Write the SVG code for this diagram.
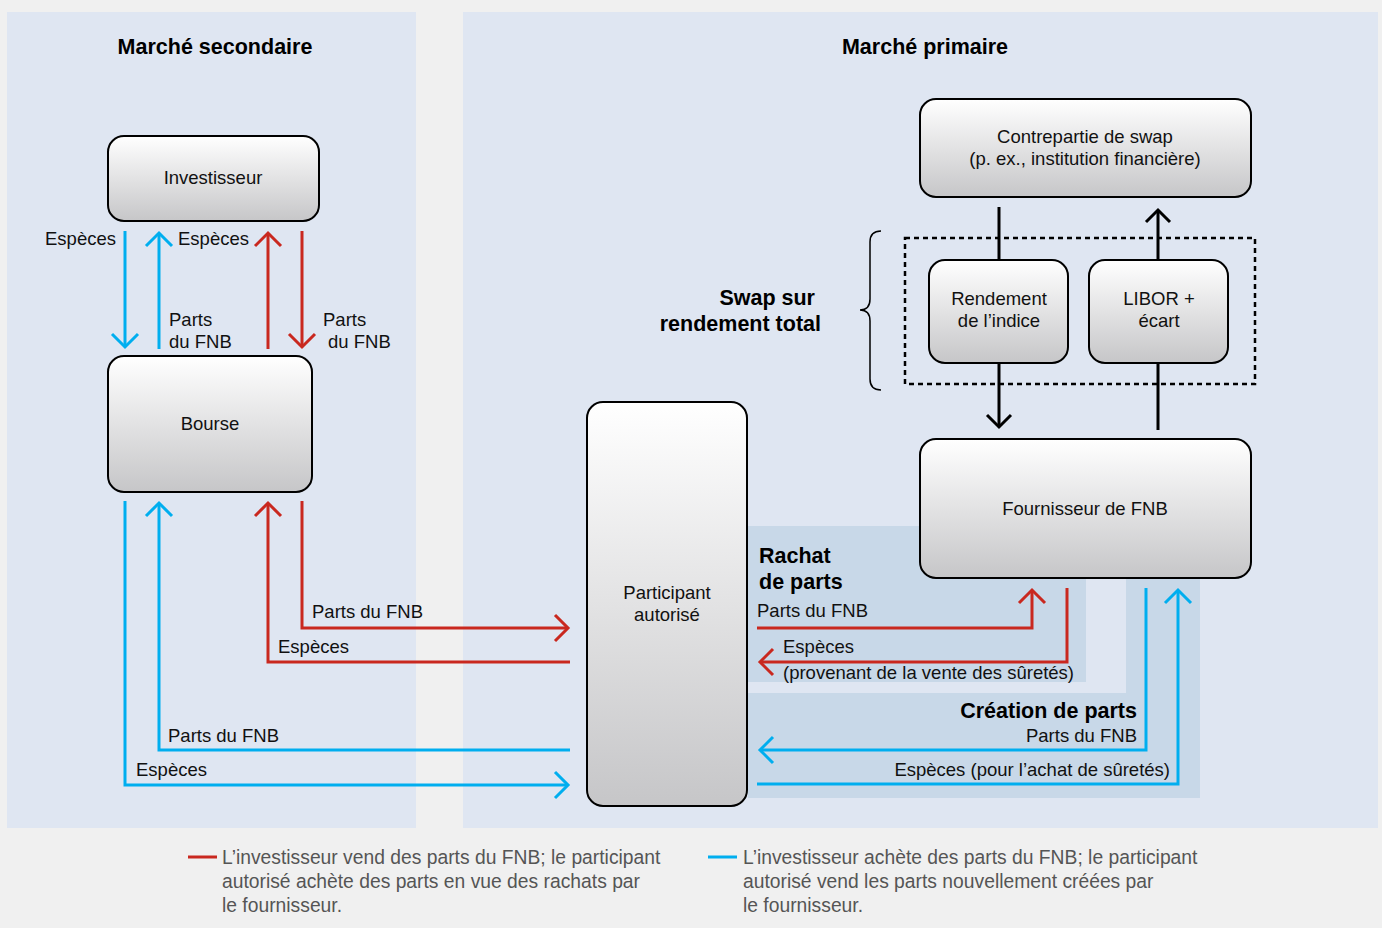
<svg xmlns="http://www.w3.org/2000/svg" width="1382" height="928" viewBox="0 0 1382 928">
<defs>
<linearGradient id="g" x1="0" y1="0" x2="0" y2="1">
<stop offset="0" stop-color="#ffffff"/>
<stop offset="1" stop-color="#c6c6c8"/>
</linearGradient>
<marker id="mb" markerUnits="userSpaceOnUse" markerWidth="32" markerHeight="32" viewBox="0 0 32 32" refX="16" refY="16" orient="auto"><path d="M3 3 L16 16 L3 29" fill="none" stroke="#00aeef" stroke-width="3"/></marker>
<marker id="mr" markerUnits="userSpaceOnUse" markerWidth="32" markerHeight="32" viewBox="0 0 32 32" refX="16" refY="16" orient="auto"><path d="M3 3 L16 16 L3 29" fill="none" stroke="#c9281f" stroke-width="3"/></marker>
<marker id="mk" markerUnits="userSpaceOnUse" markerWidth="32" markerHeight="32" viewBox="0 0 32 32" refX="16" refY="16" orient="auto"><path d="M4 4 L16 16 L4 28" fill="none" stroke="#000" stroke-width="3"/></marker>
</defs>
<style>
text{font-family:"Liberation Sans",Arial,Helvetica,sans-serif;font-size:18.5px;fill:#111}
.b{font-weight:bold;font-size:21.5px;fill:#000}
.c{text-anchor:middle}
.e{text-anchor:end}
.lg{font-size:19.3px;fill:#555}
.box{fill:url(#g);stroke:#000;stroke-width:2}
.bl{fill:none;stroke:#00aeef;stroke-width:3}
.rd{fill:none;stroke:#c9281f;stroke-width:3}
.bk{fill:none;stroke:#000;stroke-width:3}
</style>
<rect width="1382" height="928" fill="#f0f0f0"/>
<g id="panels">
<rect x="7" y="12" width="409" height="816" fill="#dfe6f2"/>
<rect x="463" y="12" width="915" height="816" fill="#dfe6f2"/>
<rect x="748" y="526" width="338" height="156" fill="#c8d8e8"/>
<path d="M748 693 H1126 V578 H1200 V798 H748 Z" fill="#c8d8e8"/>
</g>
<g id="titles">
<text class="b c" x="215" y="54">Marché secondaire</text>
<text class="b c" x="925" y="54">Marché primaire</text>
<text class="b e" x="815" y="305">Swap sur</text>
<text class="b e" x="821" y="331">rendement total</text>
<text class="b" x="759" y="563">Rachat</text>
<text class="b" x="759" y="589">de parts</text>
<text class="b e" x="1137" y="718">Création de parts</text>
</g>
<g id="swap-group">
<rect x="905" y="238" width="350" height="146" fill="none" stroke="#000" stroke-width="2.5" stroke-dasharray="5 4"/>
<path d="M881 231 Q870 231 870 242 L870 299 Q870 310 860 310 Q870 310 870 321 L870 379 Q870 390 881 390" fill="none" stroke="#000" stroke-width="1.5"/>
</g>
<g id="connectors">
<path class="bl" d="M125 231 V347" marker-end="url(#mb)"/>
<path class="bl" d="M159 349 V233" marker-end="url(#mb)"/>
<path class="rd" d="M268 349 V233" marker-end="url(#mr)"/>
<path class="rd" d="M302 231 V347" marker-end="url(#mr)"/>
<path class="bl" d="M125 501 V785 H568" marker-end="url(#mb)"/>
<path class="bl" d="M570 750 H159 V503" marker-end="url(#mb)"/>
<path class="rd" d="M570 662 H268 V503" marker-end="url(#mr)"/>
<path class="rd" d="M302 501 V628 H568" marker-end="url(#mr)"/>
<path class="rd" d="M757 628 H1032 V590" marker-end="url(#mr)"/>
<path class="rd" d="M1067 588 V662 H760" marker-end="url(#mr)"/>
<path class="bl" d="M1146 588 V750 H760" marker-end="url(#mb)"/>
<path class="bl" d="M757 784 H1178 V590" marker-end="url(#mb)"/>
<path class="bk" d="M999 207 V260"/>
<path class="bk" d="M999 363 V427" marker-end="url(#mk)"/>
<path class="bk" d="M1158 430 V363"/>
<path class="bk" d="M1158 260 V210" marker-end="url(#mk)"/>
</g>
<g id="connector-labels">
<text class="e" x="116" y="245">Espèces</text>
<text x="178" y="245">Espèces</text>
<text x="169" y="326">Parts</text>
<text x="169" y="348">du FNB</text>
<text x="323" y="326">Parts</text>
<text x="328" y="348">du FNB</text>
<text x="312" y="618">Parts du FNB</text>
<text x="278" y="653">Espèces</text>
<text x="168" y="742">Parts du FNB</text>
<text x="136" y="776">Espèces</text>
<text x="757" y="617">Parts du FNB</text>
<text x="783" y="653">Espèces</text>
<text x="783" y="679">(provenant de la vente des sûretés)</text>
<text class="e" x="1137" y="742">Parts du FNB</text>
<text class="e" x="1170" y="776">Espèces (pour l’achat de sûretés)</text>
</g>
<g id="investisseur">
<rect class="box" x="108" y="136" width="211" height="85" rx="16"/>
<text class="c" x="213" y="184">Investisseur</text>
</g>
<g id="bourse">
<rect class="box" x="108" y="356" width="204" height="136" rx="16"/>
<text class="c" x="210" y="430">Bourse</text>
</g>
<g id="participant">
<rect class="box" x="587" y="402" width="160" height="404" rx="16"/>
<text class="c" x="667" y="599">Participant</text>
<text class="c" x="667" y="621">autorisé</text>
</g>
<g id="fournisseur">
<rect class="box" x="920" y="439" width="331" height="139" rx="16"/>
<text class="c" x="1085" y="515">Fournisseur de FNB</text>
</g>
<g id="contrepartie">
<rect class="box" x="920" y="99" width="331" height="98" rx="16"/>
<text class="c" x="1085" y="143">Contrepartie de swap</text>
<text class="c" x="1085" y="165">(p. ex., institution financière)</text>
</g>
<g id="rendement">
<rect class="box" x="929" y="260" width="139" height="103" rx="16"/>
<text class="c" x="999" y="305">Rendement</text>
<text class="c" x="999" y="327">de l’indice</text>
</g>
<g id="libor">
<rect class="box" x="1089" y="260" width="139" height="103" rx="16"/>
<text class="c" x="1159" y="305">LIBOR +</text>
<text class="c" x="1159" y="327">écart</text>
</g>
<g id="legend">
<line x1="188" y1="857" x2="217" y2="857" stroke="#c9281f" stroke-width="3"/>
<text class="lg" x="222" y="864">L’investisseur vend des parts du FNB; le participant</text>
<text class="lg" x="222" y="888">autorisé achète des parts en vue des rachats par</text>
<text class="lg" x="222" y="912">le fournisseur.</text>
<line x1="708" y1="857" x2="737" y2="857" stroke="#00aeef" stroke-width="3"/>
<text class="lg" x="743" y="864">L’investisseur achète des parts du FNB; le participant</text>
<text class="lg" x="743" y="888">autorisé vend les parts nouvellement créées par</text>
<text class="lg" x="743" y="912">le fournisseur.</text>
</g>
</svg>
